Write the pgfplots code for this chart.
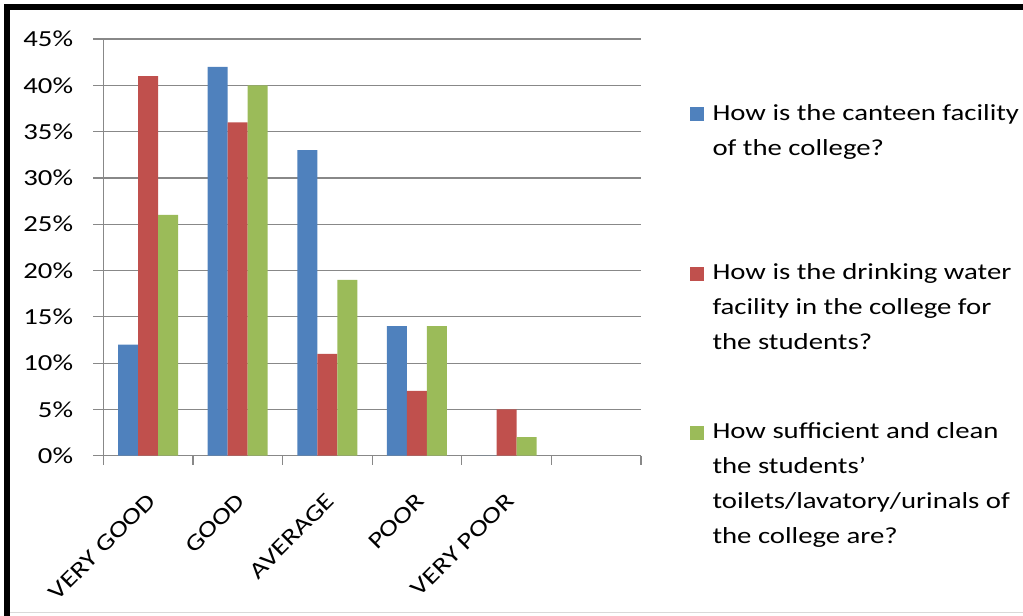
\documentclass[border=0pt]{standalone}
\usepackage{fontspec}
\setmainfont{Carlito}[FakeStretch=1.25]
\usepackage{pgfplots}
\pgfplotsset{compat=1.18}

\definecolor{xlblue}{HTML}{4F81BD}
\definecolor{xlred}{HTML}{C0504D}
\definecolor{xlgreen}{HTML}{9BBB59}
\definecolor{xlgrid}{HTML}{888888}

\newcommand{\chartfont}{\fontsize{23bp}{35bp}\selectfont}
% legend entry: first line fixes the row height, the rest hangs below
\newcommand{\legtext}[1]{\rule{0pt}{20bp}\smash{\parbox[t]{400bp}{\chartfont #1}}}

\begin{document}
\begin{tikzpicture}
\useasboundingbox (0,0) rectangle (1023bp,616bp);
% frame
\fill[black] (4bp,606bp) rectangle (1023bp,612bp);
\fill[black] (4bp,0bp) rectangle (10bp,612bp);
\draw[black!15, line width=1bp] (10bp,3bp) -- (1023bp,3bp);

\begin{axis}[
    at={(103.3bp,160.3bp)}, anchor=south west,
    scale only axis,
    width=537.7bp, height=416.7bp,
    ybar=0pt, bar width=20bp,
    xmin=-0.5, xmax=5.5,
    ymin=0, ymax=45,
    axis lines*=left,
    axis line style={draw=xlgrid, line width=1.2bp},
    tick align=outside,
    xtick={0,...,4},
    xticklabels={VERY GOOD, GOOD, AVERAGE, POOR, VERY POOR},
    major x tick style={draw=none},
    minor xtick={-0.5,0.5,...,5.5},
    minor tick length=9bp,
    major tick length=10bp,
    minor x tick style={draw=xlgrid, line width=1.2bp},
    major y tick style={draw=xlgrid, line width=1.2bp},
    ytick={0,5,...,45},
    yticklabels={0\%,5\%,10\%,15\%,20\%,25\%,30\%,35\%,40\%,45\%},
    ymajorgrids,
    grid style={draw=xlgrid, line width=1.2bp},
    tick label style={font=\chartfont, text=black},
    yticklabel style={anchor=east, inner sep=0pt, xshift=-20bp},
    xticklabel style={anchor=north east, inner sep=0pt, xshift=-2bp, yshift=-26bp, rotate=45},
    legend style={draw=none, fill=none,
        at={(axis description cs:1.0902,0.8536)}, anchor=north west,
        inner sep=0pt, outer sep=0pt, row sep=138bp, column sep=8.5bp,
        font=\chartfont, cells={anchor=base west},
        nodes={inner sep=0pt, outer sep=0pt}},
    sqleg/.style={legend image code/.code={\fill[##1] (0bp,-1bp) rectangle (14.5bp,13bp);}},
]

\addplot[fill=xlblue, draw=none, sqleg] coordinates {
    (0,12) (1,42) (2,33) (3,14) (4,0)
};
\addlegendentry{\legtext{How is the canteen facility\\of the college?}}

\addplot[fill=xlred, draw=none, sqleg] coordinates {
    (0,41) (1,36) (2,11) (3,7) (4,5)
};
\addlegendentry{\legtext{How is the drinking water\\facility in the college for\\the students?}}

\addplot[fill=xlgreen, draw=none, sqleg] coordinates {
    (0,26) (1,40) (2,19) (3,14) (4,2)
};
\addlegendentry{\legtext{How sufficient and clean\\the students'\\toilets/lavatory/urinals of\\the college are?}}

\end{axis}
\end{tikzpicture}
\end{document}
